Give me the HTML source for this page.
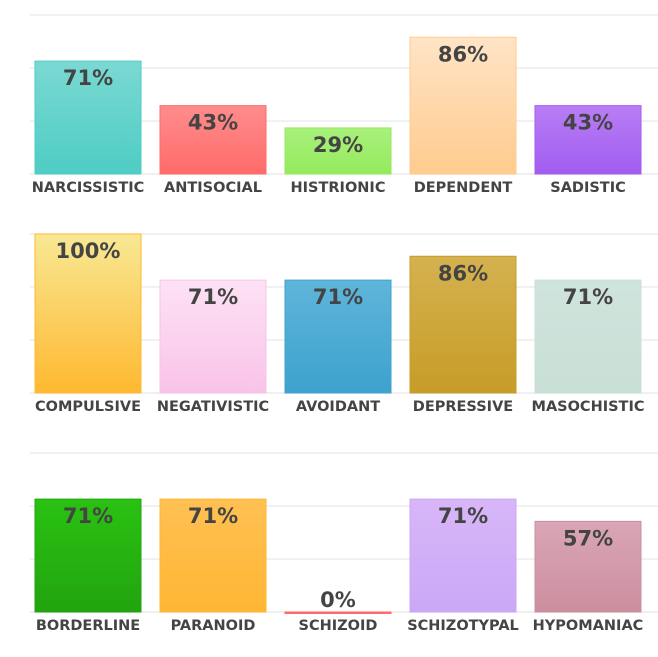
<!DOCTYPE html>
<html><head><meta charset="utf-8"><style>
body{margin:0;background:#fff;width:658px;height:653px;overflow:hidden;font-family:"DejaVu Sans",sans-serif}
svg text{font-family:"DejaVu Sans","Liberation Sans",sans-serif;font-weight:bold;fill:#444}
</style></head><body>
<svg id="c" width="658" height="653"></svg>
<script>
const categories=[["NARCISSISTIC","ANTISOCIAL","HISTRIONIC","DEPENDENT","SADISTIC"],["COMPULSIVE","NEGATIVISTIC","AVOIDANT","DEPRESSIVE","MASOCHISTIC"],["BORDERLINE","PARANOID","SCHIZOID","SCHIZOTYPAL","HYPOMANIAC"]];
const values=[[71,43,29,86,43],[100,71,71,86,71],[71,71,0,71,57]];
const colorsTop=[["#7ad9d2","#ff8c8c","#a9f07c","#ffe4c6","#b87ef5"],["#f8e894","#fde2f4","#5fb5da","#d5b250","#cfe4dc"],["#2ac212","#ffc153","#ff6b6b","#d8b6f8","#d9a6b6"]];
const colorsBot=[["#4ecdc4","#ff6b6b","#94ea5d","#ffcb8f","#a25cf0"],["#ffb830","#f9c3e9","#3da2ce","#c79c27","#c9e0d6"],["#22a40f","#ffb633","#ff6b6b","#cba8f6","#cc8e9f"]];
const ticks=[0,33.3,66.7,100];
const svg=document.getElementById('c');const NS='http://www.w3.org/2000/svg';
const panelBase=[174,393,612],plotH=159,x0=35,pitch=125,bw=106;
function y(p,v){return panelBase[p]-v/100*plotH;}
function mk(t,a){const e=document.createElementNS(NS,t);for(const k in a)e.setAttribute(k,a[k]);svg.appendChild(e);return e;}
const defs=mk('defs',{});
for(let p=0;p<3;p++){
  for(const t of ticks){
    const l=mk('line',{x1:30,x2:658,y1:y(p,t),y2:y(p,t),stroke:'#e6e6e6','stroke-width':1.2});
    
    
  }
  for(let i=0;i<5;i++){
    const g=document.createElementNS(NS,'linearGradient');g.id='g'+p+i;g.setAttribute('x1',0);g.setAttribute('x2',0);g.setAttribute('y1',0);g.setAttribute('y2',1);
    g.innerHTML=`<stop offset="0" stop-color="${colorsTop[p][i]}"/><stop offset="1" stop-color="${colorsBot[p][i]}"/>`;defs.appendChild(g);
    const v=values[p][i],x=x0+i*pitch,top=y(p,v);
    const r=mk('rect',{x:x,y:top,width:bw,height:Math.max(panelBase[p]-top,1.5),fill:`url(#g${p}${i})`,stroke:colorsBot[p][i],'stroke-width':1});
    
    
    const vt=mk('text',{x:x+bw/2,y:v>12?top+24:top-5,'text-anchor':'middle','font-size':21});vt.textContent=v+'%';
    
    
    const lt=mk('text',{x:x+bw/2,y:panelBase[p]+18,'text-anchor':'middle','font-size':14.5});lt.textContent=categories[p][i];
    
    
  }
}
</script>
</body></html>
